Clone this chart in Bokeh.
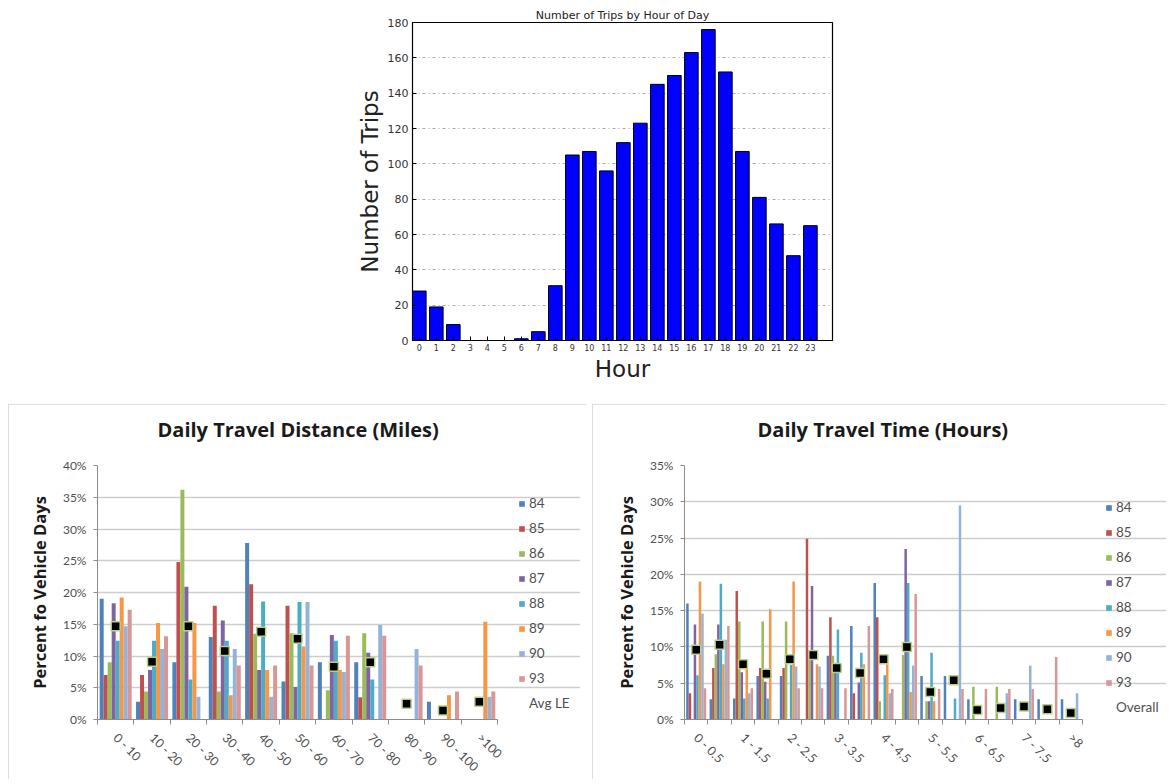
import math
from bokeh.plotting import figure
from bokeh.models import (FixedTicker, PrintfTickFormatter, Legend, LegendItem,
                          Spacer, Range1d, Title)
from bokeh.layouts import column, row
from bokeh.embed import file_html
from bokeh.resources import INLINE

# ---------------- data: trips by hour ----------------
hours = list(range(24))
trips = [28, 19, 9, 0, 0, 0, 1, 5, 31, 105, 107, 96, 112, 123, 145, 150,
         163, 176, 152, 107, 81, 66, 48, 65]

# ---------------- series meta ----------------
series_names = ["84", "85", "86", "87", "88", "89", "90", "93"]
series_colors = ["#4F81BD", "#C0504D", "#9BBB59", "#8064A2",
                 "#4BACC6", "#F79646", "#95B3D7", "#DA9694"]

# ---------------- daily travel distance (%) ----------------
dist_cats = ["0 - 10", "10 - 20", "20 - 30", "30 - 40", "40 - 50", "50 - 60",
             "60 - 70", "70 - 80", "80 - 90", "90 - 100", ">100"]
dist_84 = [19.0, 2.8, 9.0, 13.0, 27.8, 6.0, 9.0, 9.0, 0, 2.8, 0]
dist_85 = [7.0, 7.0, 24.8, 17.9, 21.3, 17.9, 0, 3.5, 0, 0, 0]
dist_86 = [9.0, 4.4, 36.2, 4.4, 13.5, 13.6, 4.6, 13.6, 0, 0, 0]
dist_87 = [18.3, 7.8, 20.9, 15.6, 7.8, 5.1, 13.3, 10.5, 0, 0, 0]
dist_88 = [12.4, 12.4, 6.3, 12.4, 18.6, 18.5, 12.4, 6.3, 0, 0, 0]
dist_89 = [19.2, 15.2, 15.2, 3.8, 7.8, 11.5, 7.8, 0, 0, 3.8, 15.4]
dist_90 = [14.7, 11.1, 3.6, 11.1, 3.6, 18.5, 7.5, 14.9, 11.1, 0, 3.6]
dist_93 = [17.3, 13.1, 0, 8.5, 8.5, 8.5, 13.2, 13.2, 8.5, 4.4, 4.4]
dist_avg = [14.7, 9.1, 14.7, 10.8, 13.8, 12.7, 8.3, 9.0, 2.5, 1.4, 2.8]

# ---------------- daily travel time (%) ----------------
time_cats = ["0 - 0.5", "0.5 - 1", "1 - 1.5", "1.5 - 2", "2 - 2.5", "2.5 - 3",
             "3 - 3.5", "3.5 - 4", "4 - 4.5", "4.5 - 5", "5 - 5.5", "5.5 - 6",
             "6 - 6.5", "6.5 - 7", "7 - 7.5", "7.5 - 8", ">8"]
time_84 = [16.0, 2.8, 2.9, 6.0, 6.0, 0, 8.8, 12.9, 18.8, 0, 6.0, 6.0, 2.8, 0, 2.8, 2.8, 2.8]
time_85 = [3.6, 7.1, 17.7, 7.1, 7.1, 24.9, 14.1, 3.6, 14.1, 0, 0, 0, 0, 0, 0, 0, 0]
time_86 = [0, 9.0, 13.5, 13.5, 13.5, 8.5, 8.8, 0, 2.5, 8.9, 2.5, 0, 4.5, 4.5, 0, 0, 0]
time_87 = [13.1, 13.1, 6.5, 5.2, 0, 18.4, 7.0, 5.1, 0, 23.5, 2.5, 0, 0, 0, 0, 0, 0]
time_88 = [6.1, 18.7, 2.9, 2.9, 7.5, 0, 12.4, 9.2, 6.1, 18.8, 9.2, 2.9, 0, 0, 0, 0, 0]
time_89 = [19.0, 7.6, 7.0, 15.2, 19.0, 7.6, 0, 7.6, 7.6, 3.8, 2.5, 0, 0, 0, 0, 0, 0]
time_90 = [14.6, 11.0, 3.6, 0, 7.3, 7.3, 0, 0, 3.6, 7.4, 0, 29.5, 0, 3.6, 7.4, 0, 3.6]
time_93 = [4.3, 12.9, 4.3, 0, 4.3, 4.3, 4.3, 12.9, 4.2, 17.3, 4.2, 4.2, 4.2, 4.2, 4.2, 8.6, 0]
time_overall = [9.6, 10.3, 7.6, 6.3, 8.3, 8.9, 7.1, 6.4, 8.3, 10.0, 3.8, 5.4, 1.3, 1.6, 1.8, 1.4, 0.9]

# ================= top chart =================
p1 = figure(width=490, height=384, x_range=Range1d(-0.4, 24.3), y_range=Range1d(0, 180),
            output_backend="svg", toolbar_location=None,
            min_border_left=60, min_border_right=10, min_border_top=22, min_border_bottom=36)
p1.vbar(x=hours, top=trips, width=0.8, fill_color="#0000FF", line_color="black", line_width=1)
p1.title.text = "Number of Trips by Hour of Day"
p1.title.align = "center"
p1.title.text_font = "DejaVu Sans"
p1.title.text_font_size = "11px"
p1.title.text_font_style = "normal"
p1.title.text_color = "#222222"
p1.title.standoff = 2
p1.outline_line_color = "black"
p1.outline_line_width = 1.2
p1.xaxis.ticker = FixedTicker(ticks=hours)
p1.yaxis.ticker = FixedTicker(ticks=list(range(0, 181, 20)))
p1.xaxis.axis_label = "Hour"
p1.yaxis.axis_label = "Number of Trips"
for ax in (p1.xaxis, p1.yaxis):
    ax.axis_label_text_font = "DejaVu Sans"
    ax.axis_label_text_font_size = "23px"
    ax.axis_label_text_font_style = "normal"
    ax.axis_label_text_color = "#222222"
    ax.axis_label_standoff = 2
    ax.major_label_text_font = "DejaVu Sans"
    ax.major_label_text_color = "#333333"
    ax.major_tick_in = 4
    ax.major_tick_out = 0
    ax.minor_tick_line_color = None
    ax.axis_line_color = "black"
p1.xaxis.major_label_text_font_size = "8px"
p1.yaxis.major_label_text_font_size = "11px"
p1.xaxis.major_label_standoff = 3
p1.yaxis.major_label_standoff = 4
p1.xgrid.visible = False
p1.ygrid.ticker = FixedTicker(ticks=list(range(0, 181, 20)))
p1.ygrid.grid_line_color = "#a8a8a8"
p1.ygrid.grid_line_dash = "3 3 1 3"
p1.ygrid.grid_line_width = 1


def make_panel(cats, values, avg, avg_label, title, title_left, ymax, width, height,
               mbl, mbr, mbt, mbb, plot_px, bar_w, label_every, leg_x, leg_y, clip):
    n = len(cats)
    centers = [i + 0.5 for i in range(n)]
    frame_w = width - mbl - mbr
    x_end = n * frame_w / plot_px
    p = figure(width=width, height=height, x_range=Range1d(0, x_end), y_range=Range1d(0, ymax),
               output_backend="svg", toolbar_location=None,
               min_border_left=mbl, min_border_right=mbr, min_border_top=mbt,
               min_border_bottom=mbb)
    p.styles = {"outline": "2px solid #D2D2D2", "outline-offset": "-2px",
                "clip-path": clip}
    items = []
    for j, (name, vals, col) in enumerate(zip(series_names, values, series_colors)):
        xs = [c + (j - 3.5) * bar_w for c in centers]
        r = p.vbar(x=xs, top=vals, width=bar_w, fill_color=col, line_color=None)
        items.append(LegendItem(label=name, renderers=[r]))
    p.scatter(x=centers, y=avg, marker="square", size=9, fill_color="black",
              line_color="#B9CF86", line_width=1.5)
    dummy = p.vbar(x=[], top=[], width=bar_w, fill_color="black", line_color="#B9CF86",
                   line_width=1)
    items.append(LegendItem(label=avg_label, renderers=[dummy]))

    # real title, with a blank spacer title between it and the frame
    p.title.text = title
    p.title.align = "left"
    p.title.offset = title_left
    p.title.text_font = "Open Sans"
    p.title.text_font_size = "20px"
    p.title.text_font_style = "bold"
    p.title.text_color = "#1a1a1a"
    p.title.standoff = 2
    p.add_layout(Title(text=" ", text_font_size="2px", standoff=18), "above")
    p.outline_line_color = None

    lab_ticks = centers[::label_every]
    p.xaxis.ticker = FixedTicker(ticks=lab_ticks, minor_ticks=list(range(n + 1)))
    p.xaxis.major_label_overrides = {c: cats[i * label_every] for i, c in enumerate(lab_ticks)}
    p.xaxis.major_label_orientation = -math.pi / 4
    p.xaxis.major_tick_line_color = None
    p.xaxis.minor_tick_line_color = "#8c8c8c"
    p.xaxis.minor_tick_in = 0
    p.xaxis.minor_tick_out = 5
    p.xaxis.major_label_standoff = 10
    p.xaxis.bounds = (0, n)

    p.yaxis.ticker = FixedTicker(ticks=list(range(0, ymax + 1, 5)))
    p.yaxis.formatter = PrintfTickFormatter(format="%d%%")
    p.yaxis.major_tick_in = 0
    p.yaxis.major_tick_out = 4
    p.yaxis.major_tick_line_color = "#8c8c8c"
    p.yaxis.minor_tick_line_color = None
    p.yaxis.major_label_standoff = 7
    p.yaxis.axis_label = "Percent fo Vehicle Days"
    p.yaxis.axis_label_text_font = "Open Sans"
    p.yaxis.axis_label_text_font_size = "16.5px"
    p.yaxis.axis_label_text_font_style = "bold"
    p.yaxis.axis_label_text_color = "#1a1a1a"
    p.yaxis.axis_label_standoff = 9
    for ax in (p.xaxis, p.yaxis):
        ax.axis_line_color = "#8c8c8c"
        ax.major_label_text_font = "Lato"
        ax.major_label_text_color = "#505050"
    p.xaxis.major_label_text_font_size = "12.5px"
    p.yaxis.major_label_text_font_size = "12px"

    p.xgrid.visible = False
    p.ygrid.ticker = FixedTicker(ticks=list(range(5, ymax + 1, 5)))
    p.ygrid.bounds = (0, n)
    p.ygrid.grid_line_color = "#CDCDCD"
    p.ygrid.grid_line_width = 1.6

    leg = Legend(items=items, location=(leg_x, leg_y), glyph_width=7, glyph_height=7,
                 label_height=15, spacing=9, label_standoff=4,
                 label_text_font="Lato", label_text_font_size="13.5px",
                 label_text_color="#505050", border_line_color=None,
                 background_fill_alpha=0, padding=10, margin=0)
    p.add_layout(leg)
    return p


p2 = make_panel(dist_cats, [dist_84, dist_85, dist_86, dist_87, dist_88, dist_89, dist_90, dist_93],
                dist_avg, "Avg LE", "Daily Travel Distance (Miles)", 60, 40,
                578, 378, 89, 6, 61, 62, 400, 0.11, 1, 421, 8,
                "inset(0px 0px 3px 0px)")
p3 = make_panel(time_cats, [time_84, time_85, time_86, time_87, time_88, time_89, time_90, time_93],
                time_overall, "Overall", "Daily Travel Time (Hours)", 73, 35,
                577, 378, 92, 0, 60, 56, 398, 0.107, 2, 421, 4,
                "inset(0px 3px 3px 0px)")

layout = column(row(Spacer(width=352, height=10), p1),
                Spacer(height=20, width=10),
                row(Spacer(width=8, height=10), p2, Spacer(width=6, height=10), p3))

open("out.html", "w").write(file_html(layout, INLINE))
